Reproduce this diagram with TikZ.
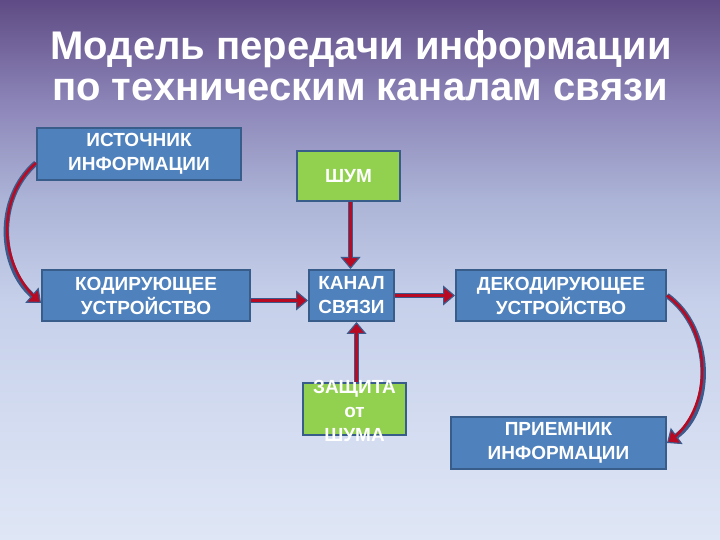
\documentclass[tikz,border=0pt]{standalone}
\usepackage{fontspec}
\setmainfont{Liberation Sans}
\usetikzlibrary{arrows.meta,calc}
\definecolor{bgtop}{RGB}{95,75,133}
\definecolor{bgA}{RGB}{140,133,184}
\definecolor{bgB}{RGB}{172,180,215}
\definecolor{bgC}{RGB}{198,208,234}
\definecolor{bgbot}{RGB}{223,231,246}
\definecolor{boxblue}{RGB}{79,129,189}
\definecolor{boxgreen}{RGB}{146,208,80}
\definecolor{boxedge}{RGB}{56,93,138}
\definecolor{arrblue}{RGB}{60,90,140}
\definecolor{arrred}{RGB}{185,10,35}
% TikZ fits the path into the middle 50bp of the shading (25bp..75bp)
\pgfdeclareverticalshading{bgshade}{100bp}{color(0bp)=(bgbot); color(25bp)=(bgbot); color(47bp)=(bgC); color(56.5bp)=(bgB); color(65.5bp)=(bgA); color(75bp)=(bgtop); color(100bp)=(bgtop)}
\tikzset{
  bluebox/.style={draw=boxedge, line width=2pt, fill=boxblue, text=white, align=center,
    font=\fontsize{19}{24}\selectfont\bfseries, inner sep=0pt},
  greenbox/.style={bluebox, fill=boxgreen},
  boxtext/.style={text=white, align=center, font=\fontsize{19}{24}\selectfont\bfseries, inner sep=0pt},
  titletext/.style={text=white, font=\fontsize{40}{41}\selectfont\bfseries, anchor=base, inner sep=0pt},
  pipe/.style={draw=arrblue, line width=5.5pt,
    -{Triangle[length=12pt,width=20pt,line width=1.2pt,fill=arrred]},
    postaction={draw=arrred, line width=2.6pt, -, shorten >=3pt}}
}
\begin{document}
\begin{tikzpicture}[x=1pt,y=1pt]
\useasboundingbox (0,0) rectangle (720,540);
\shade[shading=bgshade] (0,0) rectangle (720,540);
\node[titletext] (title1) at (361,480) {Модель передачи информации};
\node[titletext] (title2) at (360,439) {по техническим каналам связи};
\node[bluebox, minimum width=204pt, minimum height=52pt] (ist) at (139,386) {ИСТОЧНИК\\ИНФОРМАЦИИ};
\node[greenbox, minimum width=103pt, minimum height=50pt] (shum) at (348.5,364) {ШУМ};
\node[bluebox, minimum width=208pt, minimum height=51pt] (kod) at (146,244.5) {КОДИРУЮЩЕЕ\\УСТРОЙСТВО};
\node[bluebox, minimum width=85pt, minimum height=51pt] (kan) at (351.5,244.5) {КАНАЛ\\СВЯЗИ};
\node[bluebox, minimum width=210pt, minimum height=51pt] (dek) at (561,244.5) {ДЕКОДИРУЮЩЕЕ\\УСТРОЙСТВО};
\node[greenbox, minimum width=103pt, minimum height=52pt] (zash) at (354.5,131) {};
\node[boxtext] (zasht) at (354.5,129) {ЗАЩИТА\\от\\ШУМА};
\node[bluebox, minimum width=215pt, minimum height=52pt] (pri) at (558.5,97) {ПРИЕМНИК\\ИНФОРМАЦИИ};
% connectors
\draw[pipe] ([yshift=-9pt]ist.west) to[out=221,in=139] ([yshift=-7.5pt]kod.west);
\draw[pipe] ([yshift=-5pt]kod.east) -- ([yshift=-5pt]kod.east -| kan.west);
\draw[pipe] ([xshift=2pt]shum.south) -- ([xshift=2pt]shum.south |- kan.north);
\draw[pipe] ([xshift=2pt]zash.north) -- ([xshift=2pt]zash.north |- kan.south);
\draw[pipe] (kan.east) -- (kan.east -| dek.west);
\draw[pipe] (dek.east) to[out=-36,in=36] (pri.east);
\end{tikzpicture}
\end{document}
